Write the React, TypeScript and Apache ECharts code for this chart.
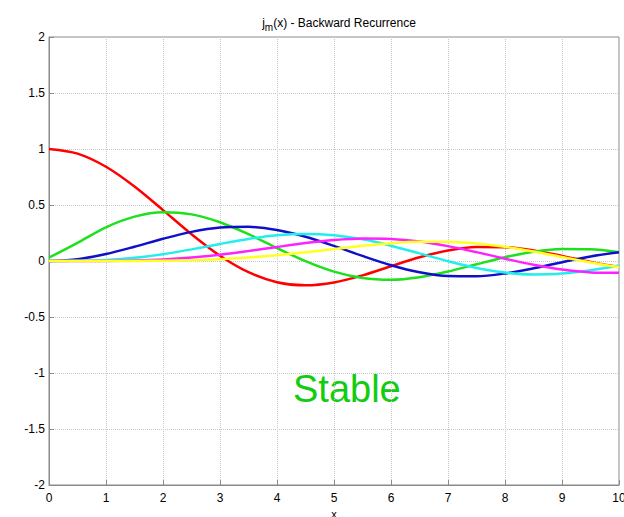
import React, { useEffect, useRef } from "react";
import * as echarts from "echarts";

const xs = [0, 0.5, 1, 1.5, 2, 2.5, 3, 3.5, 4, 4.5, 5, 5.5, 6, 6.5, 7, 7.5, 8, 8.5, 9, 9.5, 10];
const j0 = [1, 0.9589, 0.8415, 0.665, 0.4546, 0.2394, 0.047, -0.1002, -0.1892, -0.2172, -0.1918, -0.1284, -0.0466, 0.0331, 0.0939, 0.125, 0.1237, 0.0939, 0.0458, -0.0079, -0.0544];
const j1 = [0.03, 0.1625, 0.3012, 0.3962, 0.4354, 0.4162, 0.3457, 0.239, 0.1161, -0.0015, -0.0951, -0.1522, -0.1678, -0.1451, -0.0943, -0.0295, 0.0337, 0.0819, 0.1063, 0.1042, 0.0785];
const j2 = [0, 0.0164, 0.0621, 0.1274, 0.1985, 0.26, 0.2987, 0.3051, 0.2763, 0.2162, 0.1347, 0.0454, -0.0373, -0.1001, -0.1343, -0.1368, -0.1111, -0.065, -0.0104, 0.0408, 0.078];
const j3 = [0, 0.0012, 0.009, 0.0283, 0.0608, 0.1038, 0.1521, 0.1969, 0.2293, 0.2417, 0.2298, 0.1935, 0.1367, 0.0681, -0.0016, -0.0617, -0.1031, -0.1201, -0.1121, -0.0827, -0.0395];
const j4 = [0, 0.0001, 0.001, 0.0048, 0.0141, 0.0309, 0.0562, 0.0887, 0.125, 0.1598, 0.187, 0.2009, 0.1968, 0.1734, 0.1327, 0.0792, 0.0209, -0.0339, -0.0768, -0.1017, -0.1057];
const j5 = [0, 0, 0.0001, 0.0007, 0.0026, 0.0074, 0.0164, 0.031, 0.052, 0.0779, 0.1068, 0.1352, 0.1585, 0.172, 0.1722, 0.1567, 0.1266, 0.0842, 0.0353, -0.0136, -0.0556];

const seriesList = [
  { name: "j0", data: j0, color: "#ff0000" },
  { name: "j1", data: j1, color: "#1ee01e" },
  { name: "j2", data: j2, color: "#1010c8" },
  { name: "j3", data: j3, color: "#22eeee" },
  { name: "j4", data: j4, color: "#ff22ff" },
  { name: "j5", data: j5, color: "#ffff22" },
];

export default function App() {
  const ref = useRef<HTMLDivElement>(null);
  useEffect(() => {
    if (!ref.current) return;
    const chart = echarts.init(ref.current, null, { renderer: "svg" });
    chart.setOption({
      animation: false,
      backgroundColor: "#ffffff",
      textStyle: { fontFamily: "Liberation Sans, Arial, sans-serif" },
      title: {
        text: "j{sub|m}(x) - Backward Recurrence",
        left: 334,
        top: 9,
        textAlign: "center",
        textStyle: {
          fontSize: 12,
          fontWeight: "normal",
          color: "#000",
          fontFamily: "Liberation Sans, Arial, sans-serif",
          rich: {
            sub: { fontSize: 10, verticalAlign: "bottom", padding: [8, 0, 0, 0], color: "#000" },
          },
        },
      },
      grid: {
        left: 49,
        right: 5,
        top: 37,
        bottom: 32,
        show: true,
        borderColor: "#8a8a8a",
        borderWidth: 1,
        containLabel: false,
        outerBoundsMode: "none",
      },
      xAxis: {
        type: "value",
        min: 0,
        max: 10,
        interval: 1,
        name: "x",
        nameLocation: "middle",
        nameGap: 18,
        nameTextStyle: { fontSize: 11, color: "#000", lineHeight: 11 },
        axisLine: { onZero: false, lineStyle: { color: "#8a8a8a" } },
        axisTick: { inside: true, length: 5, lineStyle: { color: "#8a8a8a" } },
        axisLabel: { fontSize: 12, color: "#000", margin: 7 },
        splitLine: { show: true, lineStyle: { type: "dotted", color: "#c8c8c8" } },
      },
      yAxis: {
        type: "value",
        min: -2,
        max: 2,
        interval: 0.5,
        axisLine: { show: true, onZero: false, lineStyle: { color: "#8a8a8a" } },
        axisTick: { show: true, inside: true, length: 5, lineStyle: { color: "#8a8a8a" } },
        axisLabel: { fontSize: 12, color: "#000", margin: 4 },
        splitLine: { show: true, lineStyle: { type: "dotted", color: "#c8c8c8" } },
      },
      series: seriesList.map((s) => ({
        name: s.name,
        type: "line",
        data: xs.map((x, i) => [x, s.data[i]]),
        smooth: 0.3,
        showSymbol: false,
        lineStyle: { color: s.color, width: 2.5 },
        itemStyle: { color: s.color },
      })),
      graphic: [
        {
          type: "text",
          left: 293,
          top: 370,
          style: {
            text: "Stable",
            fontSize: 38,
            fill: "#11cc11",
            fontFamily: "Liberation Sans, Arial, sans-serif",
          },
        },
      ],
    });
    return () => chart.dispose();
  }, []);
  return <div ref={ref} style={{ width: 624, height: 517, position: "absolute", left: 0, top: 0 }} />;
}
